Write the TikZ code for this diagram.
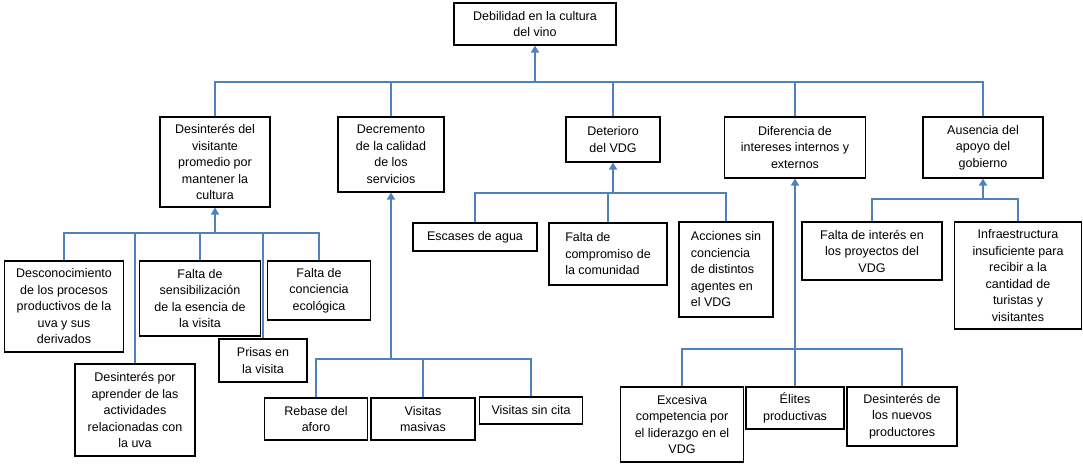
\documentclass[tikz,border=0pt]{standalone}
\usepackage{fontspec}
\setmainfont{Liberation Sans}
\usetikzlibrary{arrows.meta}
\definecolor{lineblue}{RGB}{79,129,189}
\tikzset{
  box/.style={draw=black, line width=1.1pt, fill=white, align=center, inner sep=2pt,
    font=\fontsize{12.5}{16.5}\selectfont},
  lbox/.style={box, align=left},
  conn/.style={draw=lineblue, line width=1.2pt},
  arr/.style={draw=lineblue, line width=1.7pt, -{Triangle[length=7pt,width=8pt]}},
}
\begin{document}
\begin{tikzpicture}[x=1pt,y=-1pt]
\useasboundingbox (0,0) rectangle (1083,466);
% top
\node[box, minimum width=162pt, minimum height=42pt] (top) at (535,24) {Debilidad en la cultura\\del vino};
% level 1
\node[box, minimum width=110pt, minimum height=90pt] (d1) at (215,162) {Desinterés del\\visitante\\promedio por\\mantener la\\cultura};
\node[box, minimum width=106pt, minimum height=75pt] (d2) at (391,154.5) {Decremento\\de la calidad\\de los\\servicios};
\node[box, minimum width=94pt, minimum height=45pt] (d3) at (613,139.5) {Deterioro\\del VDG};
\node[box, minimum width=141pt, minimum height=61pt] (d4) at (795,147.5) {Diferencia de\\intereses internos y\\externos};
\node[box, minimum width=120pt, minimum height=61pt] (d5) at (983,147.5) {Ausencia del\\apoyo del\\gobierno};
% children of d1
\node[box, minimum width=119pt, minimum height=91pt] (a1) at (64,306.5) {Desconocimiento\\de los procesos\\productivos de la\\uva y sus\\derivados};
\node[box, minimum width=120pt, minimum height=92pt] (a2) at (135,410) {Desinterés por\\aprender de las\\actividades\\relacionadas con\\la uva};
\node[box, minimum width=121pt, minimum height=75pt] (a3) at (200,298.5) {Falta de\\sensibilización\\de la esencia de\\la visita};
\node[box, minimum width=88pt, minimum height=43pt] (a4) at (263,360.5) {Prisas en\\la visita};
\node[box, minimum width=103pt, minimum height=59pt] (a5) at (319,290.5) {Falta de\\conciencia\\ecológica};
% children of d2
\node[box, minimum width=103pt, minimum height=42pt] (b1) at (316,419) {Rebase del\\aforo};
\node[box, minimum width=104pt, minimum height=42pt] (b2) at (423,419) {Visitas\\masivas};
\node[box, minimum width=103pt, minimum height=27pt] (b3) at (531,410.5) {Visitas sin cita};
% children of d3
\node[box, minimum width=124pt, minimum height=28pt] (c1) at (475,237) {Escases de agua};
\node[lbox, minimum width=118pt, minimum height=62pt] (c2) at (608,254) {Falta de\\compromiso de\\la comunidad};
\node[lbox, minimum width=94pt, minimum height=95pt] (c3) at (726,269.5) {Acciones sin\\conciencia\\de distintos\\agentes en\\el VDG};
% children of d4
\node[box, minimum width=123pt, minimum height=75pt] (e1) at (682,424.5) {Excesiva\\competencia por\\el liderazgo en el\\VDG};
\node[box, minimum width=98pt, minimum height=42pt] (e2) at (795,408) {Élites\\productivas};
\node[box, minimum width=110pt, minimum height=59pt] (e3) at (902,416.5) {Desinterés de\\los nuevos\\productores};
% children of d5
\node[box, minimum width=140pt, minimum height=58pt] (f1) at (872,251) {Falta de interés en\\los proyectos del\\VDG};
\node[box, minimum width=127pt, minimum height=107pt] (f2) at (1018,275.5) {Infraestructura\\insuficiente para\\recibir a la\\cantidad de\\turistas y\\visitantes};
% junctions
\coordinate (j0) at (535,82);
\coordinate (ja) at (215,233);
\coordinate (jb) at (391,359);
\coordinate (jc) at (613,193);
\coordinate (jd) at (795,349);
\coordinate (jf) at (983,199);
% connectors level 1
\draw[conn] (d1.north) |- (j0);
\draw[conn] (d2.north) |- (j0);
\draw[conn] (d3.north) |- (j0);
\draw[conn] (d4.north) |- (j0);
\draw[conn] (d5.north) |- (j0);
\draw[arr] (j0) -- (top.south);
% d1 children
\draw[conn] (a1.north) |- (ja);
\draw[conn] (a2.north) |- (ja);
\draw[conn] (a3.north) |- (ja);
\draw[conn] (a4.north) |- (ja);
\draw[conn] (a5.north) |- (ja);
\draw[arr] (ja) -- (d1.south);
% d2 children
\draw[conn] (b1.north) |- (jb);
\draw[conn] (b2.north) |- (jb);
\draw[conn] (b3.north) |- (jb);
\draw[arr] (jb) -- (d2.south);
% d3 children
\draw[conn] (c1.north) |- (jc);
\draw[conn] (c2.north) |- (jc);
\draw[conn] (c3.north) |- (jc);
\draw[arr] (jc) -- (d3.south);
% d4 children
\draw[conn] (e1.north) |- (jd);
\draw[conn] (e2.north) |- (jd);
\draw[conn] (e3.north) |- (jd);
\draw[arr] (jd) -- (d4.south);
% d5 children
\draw[conn] (f1.north) |- (jf);
\draw[conn] (f2.north) |- (jf);
\draw[arr] (jf) -- (d5.south);
\end{tikzpicture}
\end{document}
